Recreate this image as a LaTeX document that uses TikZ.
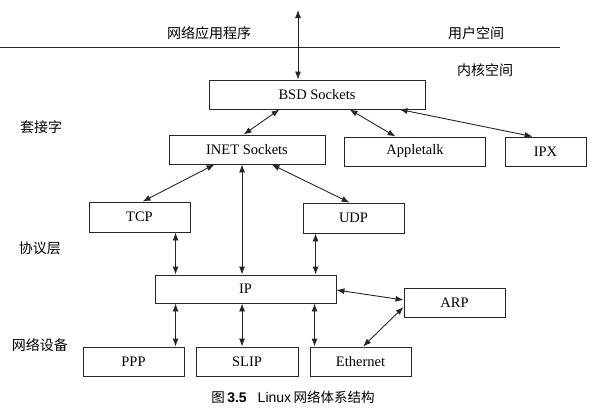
\documentclass[tikz,border=0pt]{standalone}
\usepackage{fontspec}
\setmainfont{Liberation Serif}
\newfontfamily\cjk{Noto Sans CJK SC}
\newfontfamily\capsans{Liberation Sans}
\usetikzlibrary{arrows.meta}
\begin{document}
\begin{tikzpicture}[x=1pt,y=-1pt,
  box/.style={draw=black!85, line width=0.9pt, inner sep=0pt, minimum height=29pt, font=\fontsize{14.5}{15}\selectfont},
  arr/.style={{Latex[length=8pt,width=6pt]}-{Latex[length=8pt,width=6pt]}, line width=0.9pt, draw=black!85},
  lbl/.style={font=\cjk\fontsize{14}{15}\selectfont, inner sep=0pt}]
\useasboundingbox (0,0) rectangle (597,418);
\fill[white] (0,0) rectangle (597,418);

% boxes
\node[box, minimum width=216pt] (bsd) at (317,94.5) {BSD Sockets};
\node[box, minimum width=156pt] (inet) at (247,149.5) {INET Sockets};
\node[box, minimum width=141pt] (apple) at (415,151.5) {Appletalk};
\node[box, minimum width=81pt] (ipx) at (545.5,151.5) {IPX};
\node[box, minimum width=101pt, minimum height=30pt] (tcp) at (139.5,217) {TCP};
\node[box, minimum width=101pt, minimum height=30pt] (udp) at (353.5,218) {UDP};
\node[box, minimum width=181pt, minimum height=28pt] (ip) at (245.5,289) {IP};
\node[box, minimum width=101pt] (arp) at (454.5,302.5) {ARP};
\node[box, minimum width=101pt] (ppp) at (133.5,361.5) {PPP};
\node[box, minimum width=102pt] (slip) at (247,361.5) {SLIP};
\node[box, minimum width=101pt] (eth) at (360.5,361.5) {Ethernet};

% user/kernel split
\coordinate (l0) at (0,47);
\coordinate (l1) at (560,47);
\draw[line width=0.9pt, black!85] (l0) -- (l1);

% labels
\node[lbl] (app) at (209,33) {网络应用程序};
\node[lbl] (us) at (476,33) {用户空间};
\node[lbl] (ks) at (485,70) {内核空间};
\node[lbl] (sock) at (41,127) {套接字};
\node[lbl] (proto) at (40,248) {协议层};
\node[lbl] (dev) at (40,345) {网络设备};
\node[inner sep=0pt] (cap) at (293,397) {{\cjk\fontsize{13.5}{14}\selectfont 图} {\capsans\bfseries\fontsize{14}{14}\selectfont 3.5}\hspace{1.1em}{\capsans\fontsize{14}{14}\selectfont Linux} {\cjk\fontsize{13.5}{14}\selectfont 网络体系结构}};

% connectors
\coordinate (top) at (298,10);
\draw[arr] (top) -- (top |- bsd.north);
\draw[arr] ([xshift=71pt]bsd.south west) -- ([xshift=75pt]inet.north west);
\draw[arr] ([xshift=141pt]bsd.south west) -- ([xshift=51.5pt]apple.north west);
\draw[arr] ([xshift=191pt]bsd.south west) -- ([xshift=28pt]ipx.north west);
\draw[arr] ([xshift=46pt]inet.south west) -- ([xshift=54pt]tcp.north west);
\draw[arr] ([xshift=103pt]inet.south west) -- ([xshift=47pt]udp.north west);
\draw[arr] ([xshift=73.5pt]inet.south west) -- ([xshift=87.5pt]ip.north west);
\draw[arr] ([xshift=87pt]tcp.south west) -- ([xshift=21pt]ip.north west);
\draw[arr] ([xshift=13pt]udp.south west) -- ([xshift=161pt]ip.north west);
\draw[arr] ([xshift=21pt]ip.south west) -- ([xshift=93pt]ppp.north west);
\draw[arr] ([xshift=87.5pt]ip.south west) -- ([xshift=46.5pt]slip.north west);
\draw[arr] ([xshift=160pt]ip.south west) -- ([xshift=5pt]eth.north west);
\draw[arr] ([yshift=-1pt]ip.east) -- ([yshift=2.5pt]arp.west);
\draw[arr] ([yshift=-4.5pt]arp.west) -- ([xshift=53.5pt]eth.north west);
\end{tikzpicture}
\end{document}
